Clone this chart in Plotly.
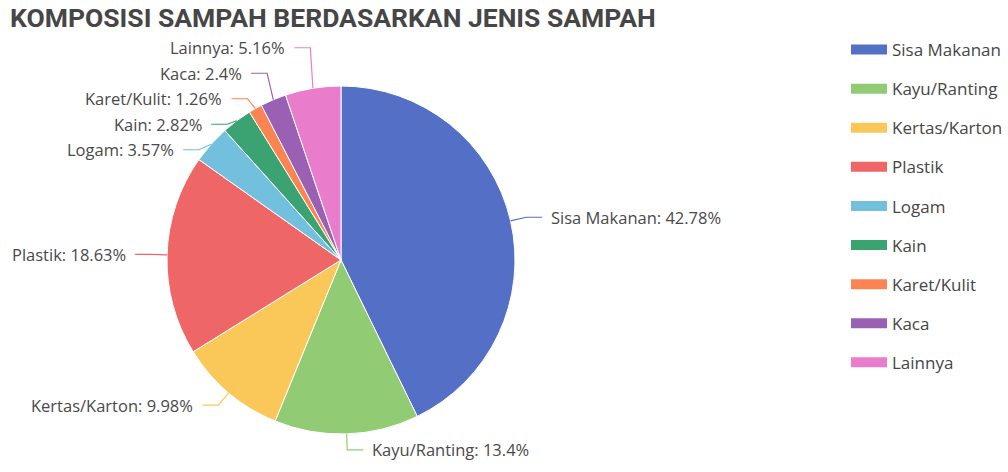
import math
import plotly.graph_objects as go

title = "KOMPOSISI SAMPAH BERDASARKAN JENIS SAMPAH"
categories = ["Sisa Makanan", "Kayu/Ranting", "Kertas/Karton", "Plastik", "Logam",
              "Kain", "Karet/Kulit", "Kaca", "Lainnya"]
values = [42.78, 13.4, 9.98, 18.63, 3.57, 2.82, 1.26, 2.4, 5.16]
value_labels = ["42.78", "13.4", "9.98", "18.63", "3.57", "2.82", "1.26", "2.4", "5.16"]
colors = ["#5470c6", "#91cc75", "#fac858", "#ee6666", "#73c0de",
          "#3ba272", "#fc8452", "#9a60b4", "#ea7ccc"]

W, H = 1008, 472
cx, cy, r = 341, 260, 174
L1, L2, GAP = 16, 16, 25.5

fig = go.Figure()
fig.add_trace(go.Pie(
    labels=categories, values=values, customdata=value_labels,
    sort=False, direction="clockwise", rotation=0,
    marker=dict(colors=colors, line=dict(color="white", width=1)),
    textinfo="none", textposition="none",
    hovertemplate="%{label}: %{customdata}%<extra></extra>",
    showlegend=False,
    domain=dict(x=[(cx - r) / W, (cx + r) / W], y=[(H - cy - r) / H, (H - cy + r) / H]),
))

# legend entries
for name, col in zip(categories, colors):
    fig.add_trace(go.Scatter(
        x=[None], y=[None], mode="lines", name=name, legendgroup=name,
        line=dict(color=col, width=14), hoverinfo="skip",
    ))

# label layout derived from the slice angles (ECharts-like outside labels)
total = sum(values)
labels_info = []
cum = 0.0
for name, v, vl, col in zip(categories, values, value_labels, colors):
    th = math.radians((cum + v / 2) / total * 360)
    cum += v
    ex, ey = cx + r * math.sin(th), cy - r * math.cos(th)
    bx, by = cx + (r + L1) * math.sin(th), cy - (r + L1) * math.cos(th)
    side = 1 if math.sin(th) >= 0 else -1
    labels_info.append(dict(text=f"{name}: {vl}%", col=col, ex=ex, ey=ey,
                            bx=bx, by=by, ny=by, side=side))


def resolve(items):
    items = sorted(items, key=lambda d: d["by"])
    clusters = []
    for it in items:
        clusters.append([it])
        while len(clusters) > 1:
            a, b = clusters[-2], clusters[-1]
            a_start = sum(d["by"] for d in a) / len(a) - (len(a) - 1) * GAP / 2
            b_start = sum(d["by"] for d in b) / len(b) - (len(b) - 1) * GAP / 2
            a_end = a_start + (len(a) - 1) * GAP
            if a_end + GAP > b_start:
                clusters[-2:] = [a + b]
            else:
                break
    for c in clusters:
        start = sum(d["by"] for d in c) / len(c) - (len(c) - 1) * GAP / 2
        for k, d in enumerate(c):
            d["ny"] = start + k * GAP


resolve([d for d in labels_info if d["side"] > 0])
resolve([d for d in labels_info if d["side"] < 0])

shapes, annotations = [], []
for d in labels_info:
    s = d["side"]
    p = [(d["ex"], d["ey"]), (d["bx"], d["ny"]), (d["bx"] + s * L2, d["ny"])]
    path = "M " + " L ".join(f"{x / W:.5f},{1 - y / H:.5f}" for x, y in p)
    shapes.append(dict(type="path", xref="paper", yref="paper", path=path,
                       line=dict(color=d["col"], width=1.2)))
    annotations.append(dict(
        x=(d["bx"] + s * (L2 + 7)) / W, y=1 - d["ny"] / H, xref="paper", yref="paper",
        text=d["text"], showarrow=False, xanchor="left" if s > 0 else "right",
        yanchor="middle", font=dict(family="Open Sans", size=16.5, color="#4a4a4a"),
    ))

fig.update_layout(
    width=W, height=H,
    margin=dict(l=0, r=0, t=0, b=0),
    paper_bgcolor="white", plot_bgcolor="white",
    xaxis=dict(visible=False), yaxis=dict(visible=False),
    shapes=shapes, annotations=annotations,
    title=dict(text="<b>" + title + "</b>", x=10 / W, xanchor="left",
               y=1 - 18 / H, yanchor="middle",
               font=dict(family="Roboto", size=26.5, color="#464646")),
    legend=dict(x=846 / W, xanchor="left", y=1 - 32 / H, yanchor="top",
                font=dict(family="Open Sans", size=17, color="#464646"),
                itemwidth=36, tracegroupgap=14,
                itemclick=False, itemdoubleclick=False),
)

fig.write_html("out.html")
